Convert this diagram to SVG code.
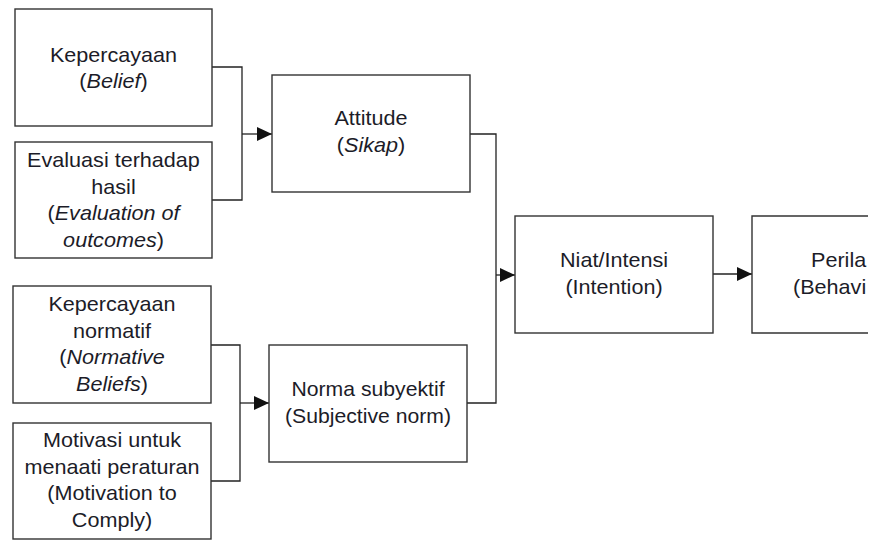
<svg xmlns="http://www.w3.org/2000/svg" width="876" height="540" viewBox="0 0 876 540">
  <defs>
    <style>
      .box { fill: #ffffff; stroke: #333333; stroke-width: 1.4; }
      .line { fill: none; stroke: #222222; stroke-width: 1.3; }
      .arr { fill: none; stroke: #222222; stroke-width: 1.3; marker-end: url(#ah); }
      text { font-family: "Liberation Sans", Arial, sans-serif; font-size: 20px; fill: #1c1c28; }
      .c { text-anchor: middle; }
      .i { font-style: italic; }
    </style>
    <marker id="ah" markerUnits="userSpaceOnUse" markerWidth="16" markerHeight="16" viewBox="0 0 16 16" refX="15" refY="8" orient="auto">
      <path d="M0,1 L15,8 L0,15 Z" fill="#111111"/>
    </marker>
  </defs>
  <rect width="876" height="540" fill="#ffffff"/>

  <g id="connectors">
    <path class="line" d="M212,67 H242 V200 H212"/>
    <path class="arr" d="M242,134 H272"/>
    <path class="line" d="M211,345 H240 V481 H211"/>
    <path class="arr" d="M240,403 H269"/>
    <path class="line" d="M470,134 H496 V403 H467"/>
    <path class="arr" d="M496,275 H515"/>
    <path class="arr" d="M713,274 H752"/>
  </g>

  <g id="belief">
    <rect class="box" x="15" y="9" width="197" height="117"/>
    <text class="c" transform="translate(113.5 61.5) scale(1.08 1)">Kepercayaan</text>
    <text class="c" transform="translate(113.5 88) scale(1.08 1)">(<tspan class="i">Belief</tspan>)</text>
  </g>

  <g id="evaluation">
    <rect class="box" x="15" y="142" width="197" height="116"/>
    <text class="c" transform="translate(113.5 167) scale(1.08 1)">Evaluasi terhadap</text>
    <text class="c" transform="translate(113.5 193.5) scale(1.08 1)">hasil</text>
    <text class="c" transform="translate(113.5 220) scale(1.08 1)">(<tspan class="i">Evaluation of</tspan></text>
    <text class="c" transform="translate(113.5 246.5) scale(1.08 1)"><tspan class="i">outcomes</tspan>)</text>
  </g>

  <g id="normative">
    <rect class="box" x="13" y="286" width="198" height="117"/>
    <text class="c" transform="translate(112 311) scale(1.08 1)">Kepercayaan</text>
    <text class="c" transform="translate(112 337.5) scale(1.08 1)">normatif</text>
    <text class="c" transform="translate(112 364) scale(1.08 1)">(<tspan class="i">Normative</tspan></text>
    <text class="c" transform="translate(112 390.5) scale(1.08 1)"><tspan class="i">Beliefs</tspan>)</text>
  </g>

  <g id="motivation">
    <rect class="box" x="13" y="423" width="198" height="116"/>
    <text class="c" transform="translate(112 447) scale(1.08 1)">Motivasi untuk</text>
    <text class="c" transform="translate(112 473.5) scale(1.08 1)">menaati peraturan</text>
    <text class="c" transform="translate(112 500) scale(1.08 1)">(Motivation to</text>
    <text class="c" transform="translate(112 526.5) scale(1.08 1)">Comply)</text>
  </g>

  <g id="attitude">
    <rect class="box" x="272" y="75" width="198" height="117"/>
    <text class="c" transform="translate(371 125) scale(1.08 1)">Attitude</text>
    <text class="c" transform="translate(371 151.5) scale(1.08 1)">(<tspan class="i">Sikap</tspan>)</text>
  </g>

  <g id="subjective-norm">
    <rect class="box" x="269" y="345" width="198" height="117"/>
    <text class="c" transform="translate(368 396) scale(1.06 1)">Norma subyektif</text>
    <text class="c" transform="translate(368 423) scale(1.06 1)">(Subjective norm)</text>
  </g>

  <g id="intention">
    <rect class="box" x="515" y="216" width="198" height="117"/>
    <text class="c" transform="translate(614 267) scale(1.08 1)">Niat/Intensi</text>
    <text class="c" transform="translate(614 294) scale(1.08 1)">(Intention)</text>
  </g>

  <g id="behavior">
    <path class="box" d="M868,216 H752 V333 H868"/>
    <text transform="translate(811 267) scale(1.08 1)">Perila</text>
    <text transform="translate(793 294) scale(1.08 1)">(Behavi</text>
  </g>
</svg>
